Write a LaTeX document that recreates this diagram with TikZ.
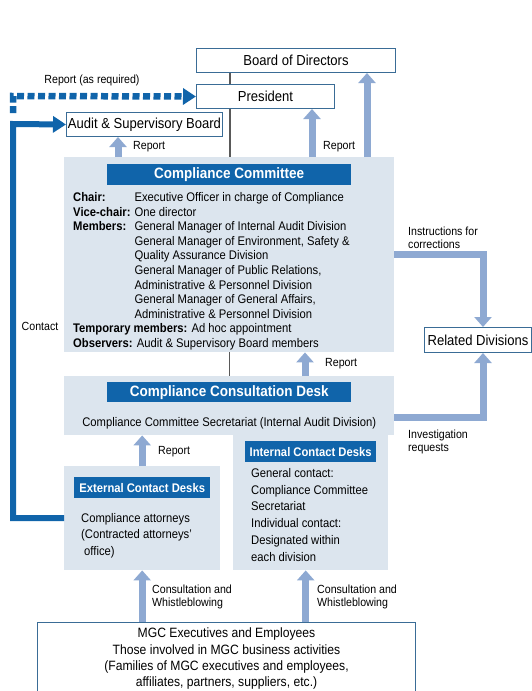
\documentclass[tikz,border=0pt]{standalone}
\usepackage{fontspec}
\setmainfont{Liberation Sans}[FakeStretch=0.9]
\usepackage{xcolor}
\usetikzlibrary{arrows.meta, positioning}

\definecolor{dblue}{HTML}{1064AA}
\definecolor{lblue}{HTML}{DCE5EE}
\definecolor{ablue}{HTML}{8EA9D2}
\definecolor{bline}{HTML}{3A6C96}

\begin{document}
\begin{tikzpicture}[x=1pt, y=-1pt,
    wbox/.style={draw=bline, line width=1pt, fill=white, inner sep=0pt, anchor=north west, font=\fontsize{14.5}{16}\selectfont},
    panel/.style={fill=lblue, inner sep=0pt, anchor=north west},
    bar/.style={fill=dblue, text=white, inner sep=0pt, font=\bfseries\fontsize{15}{17}\selectfont},
    sbar/.style={bar, font=\bfseries\fontsize{12.5}{14}\selectfont},
    fat/.style={ablue, line width=7pt, -{Triangle[length=10pt, width=17pt]}},
    gline/.style={draw=gray!70!black, line width=1.3pt},
    contact/.style={dblue, line width=6pt, -{Triangle[length=13pt, width=16pt]}},
    dashline/.style={dblue, line width=6.5pt, dash pattern=on 7pt off 3.5pt, -{Triangle[length=13pt, width=16pt]}},
    lbl/.style={font=\fontsize{11.8}{13}\selectfont, inner sep=0pt, anchor=west, align=left},
    body/.style={font=\fontsize{12.5}{14.6}\selectfont, inner sep=0pt, align=left}]

    \useasboundingbox (0,0) rectangle (532,691);

    % Top management boxes
    \node[wbox, minimum width=199pt, minimum height=24pt] (board) at (196,48) {Board of Directors};
    \node[wbox, minimum width=138pt, minimum height=24pt] (pres) at (196,84) {President};
    \node[wbox, minimum width=156pt, minimum height=24pt] (aud) at (66,112) {Audit \& Supervisory Board};

    % Compliance Committee
    \node[panel, minimum width=330pt, minimum height=195pt] (comm) at (64,157) {};
    \node[bar, minimum width=244pt, minimum height=21pt, below=7pt of comm.north] (commbar) {Compliance Committee};
    \node[body, anchor=north west] (commtxt) at (73,191) {%
        \begin{tabular}{@{}l@{\hspace{4pt}}l@{}}
        \textbf{Chair:} & Executive Officer in charge of Compliance\\
        \textbf{Vice-chair:} & One director\\
        \textbf{Members:} & General Manager of Internal Audit Division\\
         & General Manager of Environment, Safety \&\\
         & Quality Assurance Division\\
         & General Manager of Public Relations,\\
         & Administrative \& Personnel Division\\
         & General Manager of General Affairs,\\
         & Administrative \& Personnel Division\\
        \multicolumn{2}{@{}l}{\textbf{Temporary members:} Ad hoc appointment}\\
        \multicolumn{2}{@{}l}{\textbf{Observers:} Audit \& Supervisory Board members}
        \end{tabular}};

    % Compliance Consultation Desk
    \node[panel, minimum width=330pt, minimum height=59pt] (desk) at (64,376) {};
    \node[bar, minimum width=244pt, minimum height=20pt, below=6pt of desk.north] (deskbar) {Compliance Consultation Desk};
    \node[body, below=15pt of deskbar] (desktxt) {Compliance Committee Secretariat (Internal Audit Division)};

    % Contact desks
    \node[panel, minimum width=156pt, minimum height=104pt] (ext) at (64,466) {};
    \node[sbar, minimum width=136pt, minimum height=21pt, below=11pt of ext.north] (extbar) {External Contact Desks};
    \node[body, anchor=north west, font=\fontsize{12.5}{16.5}\selectfont] (exttxt) at (81,513)
        {Compliance attorneys\\(Contracted attorneys'\\\hspace{3pt}office)};
    \node[panel, minimum width=155pt, minimum height=135pt] (int) at (233,435) {};
    \node[sbar, minimum width=131pt, minimum height=21pt, below=6pt of int.north] (intbar) {Internal Contact Desks};
    \node[body, anchor=north west, font=\fontsize{12.5}{16.8}\selectfont] (inttxt) at (251,468)
        {General contact:\\Compliance Committee\\Secretariat\\Individual contact:\\Designated within\\each division};

    % Related Divisions and MGC people
    \node[wbox, minimum width=107pt, minimum height=25pt] (rel) at (424,327) {Related Divisions};
    \node[wbox, minimum width=378pt, minimum height=85pt] (mgc) at (37,622) {};
    \node[body, align=center, font=\fontsize{13.5}{16.3}\selectfont, below=6pt of mgc.north] (mgctxt)
        {MGC Executives and Employees\\Those involved in MGC business activities\\(Families of MGC executives and employees,\\affiliates, partners, suppliers, etc.)};

    % Gray organisation lines
    \path (board.south west) ++(34,0) coordinate (g1);
    \draw[gline] (g1) -- (g1 |- pres.north);
    \draw[gline] (g1 |- pres.south) -- (g1 |- comm.north);
    \draw[gline] (comm.south) -- (desk.north);

    % Report arrows
    \path (comm.north west) ++(54,0) coordinate (r1);
    \path (comm.north west) ++(248,0) coordinate (r2);
    \path (comm.north west) ++(303,0) coordinate (r3);
    \path (desk.north west) ++(241,0) coordinate (r4);
    \draw[fat] (r1) -- (r1 |- aud.south);
    \draw[fat] (r2) -- (r2 |- pres.south);
    \draw[fat] (r3) -- (r3 |- board.south);
    \draw[fat] (r4) -- (r4 |- comm.south);
    \draw[fat] (ext.north) -- (ext.north |- desk.south);
    \node[lbl] (rep1) at (133,147) {Report};
    \node[lbl] (rep2) at (323,147) {Report};
    \node[lbl] (rep3) at (325,364) {Report};
    \node[lbl] (rep4) at (158,452) {Report};

    % Consultation and whistleblowing
    \draw[fat] (ext.south |- mgc.north) -- (ext.south);
    \draw[fat] ([xshift=-5pt]int.south |- mgc.north) -- ([xshift=-5pt]int.south);
    \node[lbl] (cw1) at (152,597) {Consultation and\\Whistleblowing};
    \node[lbl] (cw2) at (317,597) {Consultation and\\Whistleblowing};

    % Related divisions
    \draw[fat] (comm.east) -| ([xshift=5pt]rel.north);
    \draw[fat] ([yshift=-12pt]desk.east) -| ([xshift=5pt]rel.south);
    \node[lbl] (instr) at (408,238) {Instructions for\\corrections};
    \node[lbl] (invest) at (408,442) {Investigation\\requests};

    % Contact line and report as required
    \coordinate (cx) at (13,124);
    \coordinate (dx) at (13,96);
    \draw[contact] (ext.west) -| (cx) -- (aud.west);
    \draw[dashline] ([yshift=11pt]cx) -- (dx) -- (pres.west);
    \node[lbl, anchor=center] (contlbl) at (40,326) {Contact};
    \node[lbl, anchor=center] (asreq) at (92,80) {Report (as required)};
\end{tikzpicture}
\end{document}
